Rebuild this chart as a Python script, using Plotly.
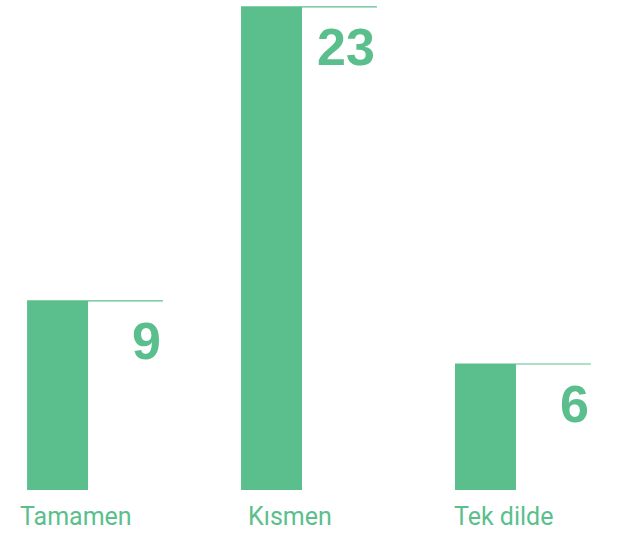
import plotly.graph_objects as go

categories = ["Tamamen", "Kısmen", "Tek dilde"]
values = [9, 23, 6]
value_labels = ["9", "23", "6"]

GREEN = "#5bbf8d"
BAR_W = 0.285
LINE_LEN = 0.635

xs = list(range(len(categories)))

fig = go.Figure()
fig.add_trace(go.Bar(x=xs, y=values, width=BAR_W, marker=dict(color=GREEN, line=dict(width=0)),
                     hoverinfo="skip"))

for i, v, lab, cat in zip(xs, values, value_labels, categories):
    x0 = i - BAR_W / 2
    fig.add_shape(type="line", xref="x", yref="y", x0=x0, x1=x0 + LINE_LEN, y0=v, y1=v,
                  line=dict(color=GREEN, width=1.2), layer="below")
    fig.add_annotation(x=x0 + LINE_LEN, y=v, xref="x", yref="y", text=lab, showarrow=False,
                       xanchor="right", yanchor="top", xshift=0, yshift=-9,
                       font=dict(family="Liberation Sans Narrow, Liberation Sans, sans-serif",
                                 size=52, color=GREEN, weight="bold"))
    fig.add_annotation(x=i, y=0, xref="x", yref="y", text=cat, showarrow=False,
                       xanchor="center", yanchor="top", xshift=18, yshift=-10,
                       font=dict(family="Roboto, sans-serif", size=25, color=GREEN))

fig.update_layout(
    width=625, height=534,
    margin=dict(l=0, r=0, t=0, b=44),
    paper_bgcolor="white", plot_bgcolor="white",
    showlegend=False,
    xaxis=dict(range=[-0.269, 2.652], visible=False, fixedrange=True),
    yaxis=dict(range=[0, 23.33], visible=False, fixedrange=True),
)

fig.write_html("out.html", config={"displayModeBar": False},
               post_script="document.body.style.margin='0';document.body.style.overflow='hidden';")
